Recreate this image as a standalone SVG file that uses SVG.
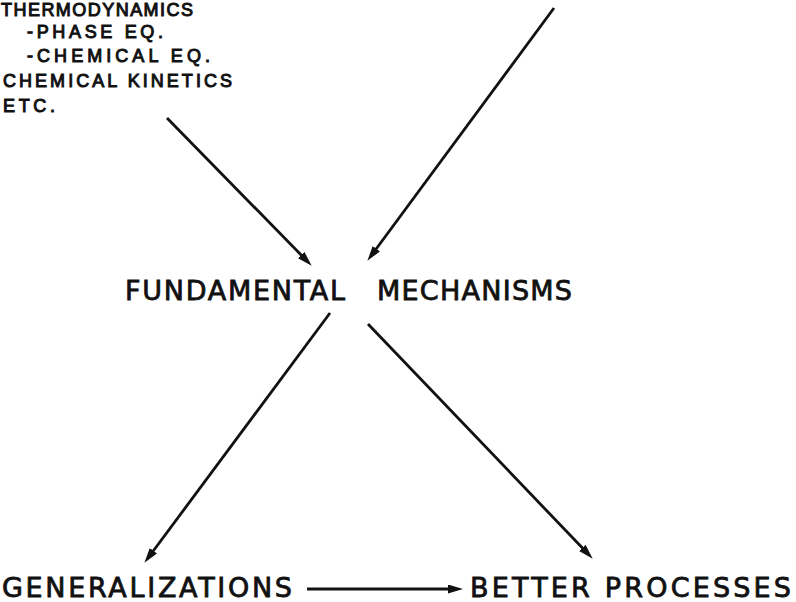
<svg xmlns="http://www.w3.org/2000/svg" width="796" height="602" viewBox="0 0 796 602">
  <style>
    .big { font-family: "DejaVu Sans", "Liberation Sans", sans-serif; font-size: 27px; fill: #111; stroke: #111; stroke-width: 0.8; }
    .small { font-family: "Liberation Sans", "DejaVu Sans", sans-serif; font-size: 18px; fill: #111; stroke: #111; stroke-width: 1; }
    .conn { stroke: #111; stroke-width: 2.8; fill: none; }
  </style>
  <defs>
    <marker id="ah" markerUnits="userSpaceOnUse" markerWidth="16" markerHeight="10" refX="4" refY="4.5" orient="auto">
      <path d="M0,0 L15,4.5 L0,9 z" fill="#111"/>
    </marker>
  </defs>
  <rect width="796" height="602" fill="#fff"/>
  <g id="sciences">
    <text class="small" x="1" y="16" textLength="192" lengthAdjust="spacing">THERMODYNAMICS</text>
    <text class="small" x="27" y="38" textLength="136" lengthAdjust="spacing">-PHASE EQ.</text>
    <text class="small" x="27" y="62" textLength="183" lengthAdjust="spacing">-CHEMICAL EQ.</text>
    <text class="small" x="3" y="87" textLength="229" lengthAdjust="spacing">CHEMICAL KINETICS</text>
    <text class="small" x="3" y="112" textLength="52" lengthAdjust="spacing">ETC.</text>
  </g>
  <g id="fundamental">
    <text class="big" y="300"><tspan x="125" textLength="220" lengthAdjust="spacing">FUNDAMENTAL</tspan><tspan x="377" textLength="195" lengthAdjust="spacing">MECHANISMS</tspan></text>
  </g>
  <g id="generalizations">
    <text class="big" x="2" y="597" textLength="290" lengthAdjust="spacing">GENERALIZATIONS</text>
  </g>
  <g id="better">
    <text class="big" x="470" y="597" textLength="321" lengthAdjust="spacing">BETTER PROCESSES</text>
  </g>
  <g id="connectors">
    <line class="conn" x1="167" y1="118" x2="304" y2="257.9" marker-end="url(#ah)"/>
    <line class="conn" x1="554" y1="8" x2="373.9" y2="252" marker-end="url(#ah)"/>
    <line class="conn" x1="330" y1="313" x2="151" y2="554" marker-end="url(#ah)"/>
    <line class="conn" x1="368" y1="324" x2="585.1" y2="550.8" marker-end="url(#ah)"/>
    <line class="conn" x1="307" y1="589" x2="452" y2="589" marker-end="url(#ah)"/>
  </g>
</svg>
